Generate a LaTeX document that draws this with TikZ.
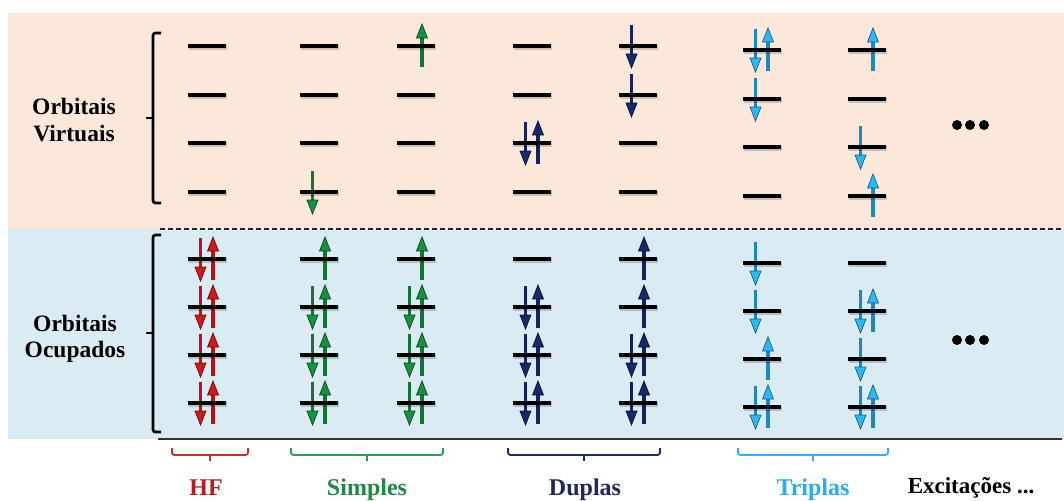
\documentclass[tikz,border=0pt]{standalone}
\usepackage{fontspec}
\setmainfont{Liberation Serif}
\definecolor{peach}{RGB}{252,232,219}
\definecolor{bluebg}{RGB}{218,235,243}
\definecolor{hfS}{RGB}{180,20,25}\definecolor{hfH}{RGB}{205,25,30}\definecolor{hfO}{RGB}{110,10,10}
\definecolor{siS}{RGB}{20,115,55}\definecolor{siH}{RGB}{25,145,65}\definecolor{siO}{RGB}{10,70,30}
\definecolor{duS}{RGB}{20,35,90}\definecolor{duH}{RGB}{22,42,105}\definecolor{duO}{RGB}{10,20,55}
\definecolor{trS}{RGB}{30,135,190}\definecolor{trH}{RGB}{45,185,240}\definecolor{trO}{RGB}{20,90,140}
\definecolor{hfT}{RGB}{175,30,35}\definecolor{siT}{RGB}{35,135,70}
\definecolor{duT}{RGB}{30,40,95}\definecolor{trT}{RGB}{35,175,240}
\definecolor{hfB}{RGB}{200,45,50}\definecolor{siB}{RGB}{45,155,85}
\definecolor{duB}{RGB}{30,45,105}\definecolor{trB}{RGB}{45,180,240}
\newcommand\SpinUp[3]{%
  \draw[line width=3.6pt,#3S] ({#1},{#2+21}) -- ({#1},{#2-10});
  \filldraw[line width=0.7pt,draw=#3O,fill=#3H,line join=miter] ({#1-5.5},{#2-8}) -- ({#1},{#2-22}) -- ({#1+5.5},{#2-8}) -- cycle;}
\newcommand\SpinDn[3]{%
  \draw[line width=3.6pt,#3S] ({#1},{#2-21}) -- ({#1},{#2+10});
  \filldraw[line width=0.7pt,draw=#3O,fill=#3H,line join=miter] ({#1-5.5},{#2+8}) -- ({#1},{#2+22}) -- ({#1+5.5},{#2+8}) -- cycle;}
\newcommand\SpinPair[3]{\SpinDn{#1-6.5}{#2}{#3}\SpinUp{#1+6}{#2}{#3}}
\newcommand\UBrace[3]{%
  \draw[ubrace,#3] (#1,448) -- (#1,455) -- (#2,455) -- (#2,448);
  \draw[line width=1.8pt,#3] ({(#1+#2)/2},455) -- ({(#1+#2)/2},461);}
\begin{document}
\begin{tikzpicture}[x=1pt,y=-1pt,
  lvl/.style={line width=3.9pt,black},
  lvlshadow/.style={line width=4.5pt,black,opacity=0.18},
  lbl/.style={font=\fontsize{23.5}{26.5}\selectfont\bfseries,align=center,inner sep=0pt},
  blbl/.style={font=\fontsize{24}{27}\selectfont\bfseries,inner sep=0pt,anchor=base},
  brk/.style={line width=2.8pt,line join=round,rounded corners=2.5pt},
  ubrace/.style={line width=1.8pt,rounded corners=2.5pt},
  sep/.style={line width=1.8pt,dash pattern=on 5pt off 3pt,black!85},
  base/.style={line width=2.6pt,black!80}]
\useasboundingbox (0,0) rectangle (1064,500);
% backgrounds
\fill[peach] (8,13) rectangle (1064,229);
\fill[bluebg] (8,229) rectangle (1064,439);
\draw[sep] (160,229) -- (1064,229);
\draw[base] (158,439) -- (1062,439);
% brackets
\draw[brk] (161,33) -- (153,33) -- (153,203) -- (161,203);
\draw[brk] (153,118) -- (146,118);
\draw[brk] (161,235) -- (153,235) -- (153,432) -- (161,432);
\draw[brk] (153,333) -- (146,333);
% electrons: HF
\foreach \y in {259,307,355,403} {\SpinPair{207}{\y}{hf}}
% Simples
\SpinDn{312.5}{192}{si}
\SpinUp{325}{259}{si}
\foreach \y in {307,355,403} {\SpinPair{319}{\y}{si}}
\SpinUp{422}{46}{si}
\SpinUp{422}{259}{si}
\foreach \y in {307,355,403} {\SpinPair{416}{\y}{si}}
% Duplas
\SpinPair{532}{143}{du}
\foreach \y in {307,355,403} {\SpinPair{532}{\y}{du}}
\SpinDn{631.5}{46}{du}
\SpinDn{631.5}{95}{du}
\SpinUp{644}{259}{du}
\SpinUp{644}{307}{du}
\foreach \y in {355,403} {\SpinPair{638}{\y}{du}}
% Triplas
\SpinPair{762}{50}{tr}
\SpinDn{755.5}{99}{tr}
\SpinDn{755.5}{263}{tr}
\SpinDn{755.5}{311}{tr}
\SpinUp{768}{359}{tr}
\SpinPair{762}{407}{tr}
\SpinUp{873}{50}{tr}
\SpinDn{860.5}{147}{tr}
\SpinUp{873}{196}{tr}
\SpinPair{867}{311}{tr}
\SpinDn{860.5}{359}{tr}
\SpinPair{867}{407}{tr}
% levels
\foreach \x/\s in {207/0,319/0,416/0,532/0,638/0,762/4,867/4}
  \foreach \y in {46,95,143,192,259,307,355,403} {
    \draw[lvlshadow] ({\x-19+1},{\y+\s+1.5}) -- ({\x+19+1},{\y+\s+1.5});
    \draw[lvl] ({\x-19},{\y+\s}) -- ({\x+19},{\y+\s});
  }
% dots
\foreach \x in {957,970,984} {
  \fill (\x,125) circle[radius=5pt];
  \fill (\x,340) circle[radius=5pt];
}
% under braces
\UBrace{172}{248}{hfB}
\UBrace{291}{443}{siB}
\UBrace{508}{660}{duB}
\UBrace{738}{888}{trB}
% labels
\node[lbl] (virt) at (74,120) {Orbitais\\Virtuais};
\node[lbl] (ocup) at (75,339) {Orbitais\\Ocupados};
\node[blbl,hfT] (hf) at (206,495) {HF};
\node[blbl,siT] (simples) at (367,495) {Simples};
\node[blbl,duT] (duplas) at (585,495) {Duplas};
\node[blbl,trT] (triplas) at (813,495) {Triplas};
\node[blbl,black,font=\fontsize{23}{26}\selectfont\bfseries] (exc) at (971,493) {Excitações ...};
\end{tikzpicture}
\end{document}
